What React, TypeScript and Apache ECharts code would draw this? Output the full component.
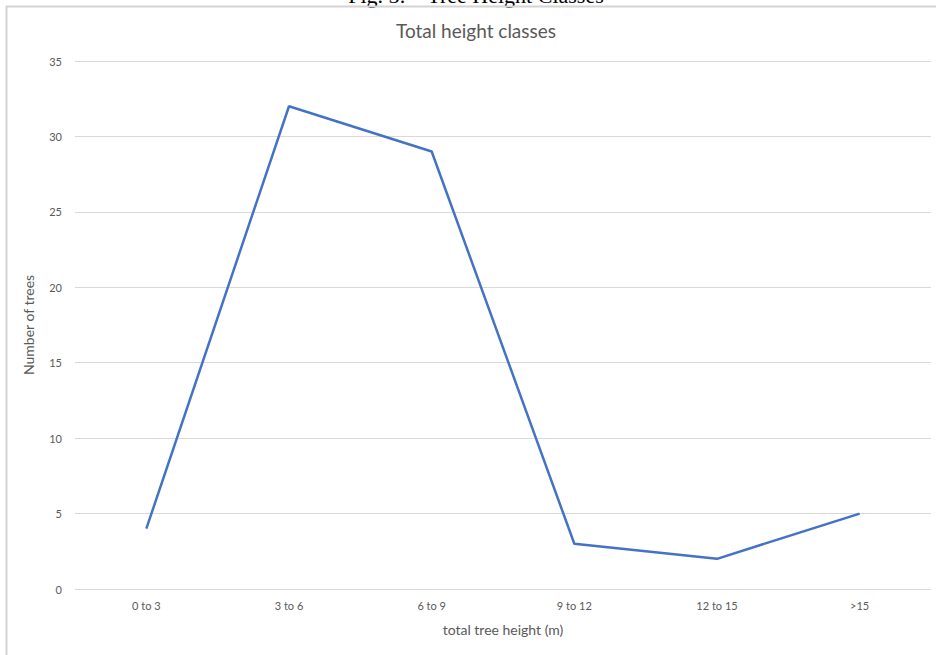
import React, { useEffect, useRef } from "react";
import * as echarts from "echarts";

const categories = ["0 to 3", "3 to 6", "6 to 9", "9 to 12", "12 to 15", ">15"];
const treeCounts = [4, 32, 29, 3, 2, 5];
const chartTitle = "Total height classes";
const figCaption = "Fig. 5: \u2013 Tree Height Classes";
const xAxisName = "total tree height (m)";
const yAxisName = "Number of trees";

export default function App() {
  const ref = useRef<HTMLDivElement>(null);
  useEffect(() => {
    if (!ref.current) return;
    const chart = echarts.init(ref.current, undefined, { renderer: "svg" });
    const font = "Lato, 'Open Sans', sans-serif";
    chart.setOption({
      animation: false,
      backgroundColor: "#ffffff",
      graphic: [
        {
          type: "text",
          x: 476,
          y: 6,
          style: {
            text: figCaption,
            fontFamily: "'Liberation Serif', 'DejaVu Serif', serif",
            fontSize: 22,
            fill: "#000000",
            textAlign: "center",
            textVerticalAlign: "bottom",
          },
        },
        {
          type: "text",
          x: 476,
          y: 30,
          style: {
            text: chartTitle,
            fontFamily: font,
            fontSize: 19,
            fill: "#595959",
            textAlign: "center",
            textVerticalAlign: "middle",
          },
        },
        {
          type: "line",
          shape: { x1: 6, y1: 6.5, x2: 936, y2: 6.5 },
          style: { stroke: "#d4d4d4", lineWidth: 2 },
        },
        {
          type: "line",
          shape: { x1: 6.5, y1: 6, x2: 6.5, y2: 655 },
          style: { stroke: "#d4d4d4", lineWidth: 2 },
        },
      ],
      grid: { left: 75, right: 5, top: 61, bottom: 66 },
      xAxis: {
        type: "category",
        data: categories,
        boundaryGap: true,
        name: xAxisName,
        nameLocation: "middle",
        nameGap: 33,
        nameTextStyle: { fontFamily: font, fontSize: 14, color: "#595959" },
        axisLine: { show: false },
        axisTick: { show: false },
        axisLabel: { fontFamily: font, fontSize: 11, color: "#595959", margin: 11 },
      },
      yAxis: {
        type: "value",
        min: 0,
        max: 35,
        interval: 5,
        name: yAxisName,
        nameLocation: "middle",
        nameGap: 40,
        nameRotate: 90,
        nameTextStyle: { fontFamily: font, fontSize: 14, color: "#595959" },
        axisLine: { show: false },
        axisTick: { show: false },
        axisLabel: { fontFamily: font, fontSize: 11, color: "#595959", margin: 13 },
        splitLine: { lineStyle: { color: "#d9d9d9", width: 1 } },
      },
      series: [
        {
          type: "line",
          data: treeCounts,
          symbol: "none",
          lineStyle: { color: "#4472c4", width: 2.5 },
          itemStyle: { color: "#4472c4" },
        },
      ],
    });
    return () => chart.dispose();
  }, []);
  return (
    <div
      ref={ref}
      style={{ position: "absolute", left: 0, top: 0, width: 936, height: 655, overflow: "hidden" }}
    />
  );
}
